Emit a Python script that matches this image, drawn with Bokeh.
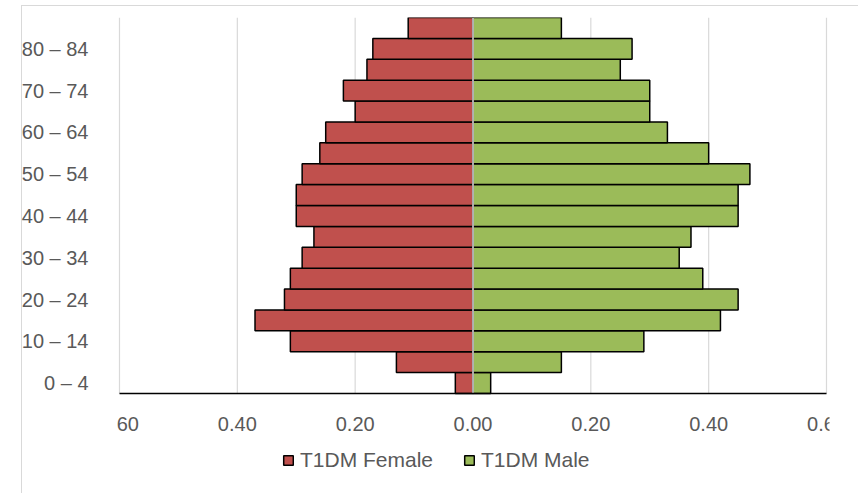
from bokeh.plotting import figure
from bokeh.models import FixedTicker, Legend, LegendItem, ColumnDataSource
from bokeh.core.properties import value
from bokeh.embed import file_html
from bokeh.resources import INLINE

age_groups = ["0 – 4", "5 – 9", "10 – 14", "15 – 19", "20 – 24", "25 – 29",
              "30 – 34", "35 – 39", "40 – 44", "45 – 49", "50 – 54", "55 – 59",
              "60 – 64", "65 – 69", "70 – 74", "75 – 79", "80 – 84", "85+"]
female = [0.03, 0.13, 0.31, 0.37, 0.32, 0.31, 0.29, 0.27, 0.30, 0.30,
          0.29, 0.26, 0.25, 0.20, 0.22, 0.18, 0.17, 0.11]
male = [0.03, 0.15, 0.29, 0.42, 0.45, 0.39, 0.35, 0.37, 0.45, 0.45,
        0.47, 0.40, 0.33, 0.30, 0.30, 0.25, 0.27, 0.15]
x_ticks = [-0.6, -0.4, -0.2, 0.0, 0.2, 0.4, 0.6]
x_tick_labels = ["0.60", "0.40", "0.20", "0.00", "0.20", "0.40", "0.60"]
series_names = ["T1DM Female", "T1DM Male"]

TEXT = "#595959"
FONT = "Liberation Sans"
BG = ("linear-gradient(#d9d9d9,#d9d9d9) 21px 5px / 1px 100% no-repeat, "
      "linear-gradient(#d9d9d9,#d9d9d9) 21px 5px / 100% 1px no-repeat")

n = len(age_groups)
idx = list(range(n))
x_lo, x_hi = x_ticks[0], x_ticks[-1]
y_lo, y_hi = -0.5, n - 0.5

# layout: bar area 707 x 376 px, frame extended downward to hold axis labels + legend
bar_w_px, bar_h_px = 707, 376
extra_bottom_px, side_px = 97, 3
px_per_y = bar_h_px / (y_hi - y_lo)
px_per_x = bar_w_px / (x_hi - x_lo)
dx = side_px / px_per_x
y_start = y_lo - extra_bottom_px / px_per_y

src = ColumnDataSource(dict(
    y=idx,
    fneg=[-v for v in female],
    m=male,
    zero=[0.0] * n,
))
grid_src = ColumnDataSource(dict(
    x=x_ticks, y0=[y_lo] * len(x_ticks), y1=[y_hi] * len(x_ticks), lab=x_tick_labels,
))

p = figure(frame_width=bar_w_px + 2 * side_px, frame_height=bar_h_px + extra_bottom_px,
           x_range=(x_lo - dx, x_hi + dx), y_range=(y_start, y_hi),
           output_backend="svg", toolbar_location=None,
           min_border_left=119 - side_px, min_border_right=29, min_border_top=17,
           min_border_bottom=3, styles={"background": BG})
p.outline_line_color = None
p.border_fill_alpha = 0
p.background_fill_color = "white"
p.xgrid.visible = False
p.ygrid.visible = False
p.xaxis.visible = False

# vertical gridlines
p.segment(x0="x", x1="x", y0="y0", y1="y1", source=grid_src,
          line_color="#d9d9d9", line_width=1.2)

rf = p.hbar(y="y", left="fneg", right="zero", height=1.0, source=src,
            fill_color="#C0504D", line_color="black", line_width=1.5)
rm = p.hbar(y="y", left="zero", right="m", height=1.0, source=src,
            fill_color="#9BBB59", line_color="black", line_width=1.5)

# zero line over bars
p.segment(x0=[0.0], x1=[0.0], y0=[y_lo], y1=[y_hi], line_color="#e2e2e2", line_width=1.5)

# horizontal axis line and tick labels
p.segment(x0=[x_lo], x1=[x_hi], y0=[y_lo], y1=[y_lo], line_color="black", line_width=1.5)
p.text(x="x", y="y0", text="lab", source=grid_src, text_align="center",
       text_baseline="middle", y_offset=30, text_font=value(FONT),
       text_font_size="20px", text_color=TEXT)

y_ticks = idx[::2]
p.yaxis.ticker = FixedTicker(ticks=y_ticks)
p.yaxis.major_label_overrides = {t: age_groups[t] for t in y_ticks}
p.yaxis.axis_line_color = None
p.yaxis.major_tick_line_color = None
p.yaxis.minor_tick_line_color = None
p.yaxis.major_label_standoff = 22
p.yaxis.major_label_text_font = FONT
p.yaxis.major_label_text_font_size = "20px"
p.yaxis.major_label_text_color = TEXT

legend = Legend(items=[LegendItem(label=series_names[0], renderers=[rf]),
                       LegendItem(label=series_names[1], renderers=[rm])],
                orientation="horizontal", location=(166, 18),
                glyph_width=12, glyph_height=12, label_standoff=6, spacing=30,
                padding=0, margin=0, border_line_color=None,
                background_fill_alpha=0,
                label_text_font=FONT, label_text_font_size="21px",
                label_text_color=TEXT)
p.add_layout(legend, "center")

open("out.html", "w").write(file_html(p, INLINE))
